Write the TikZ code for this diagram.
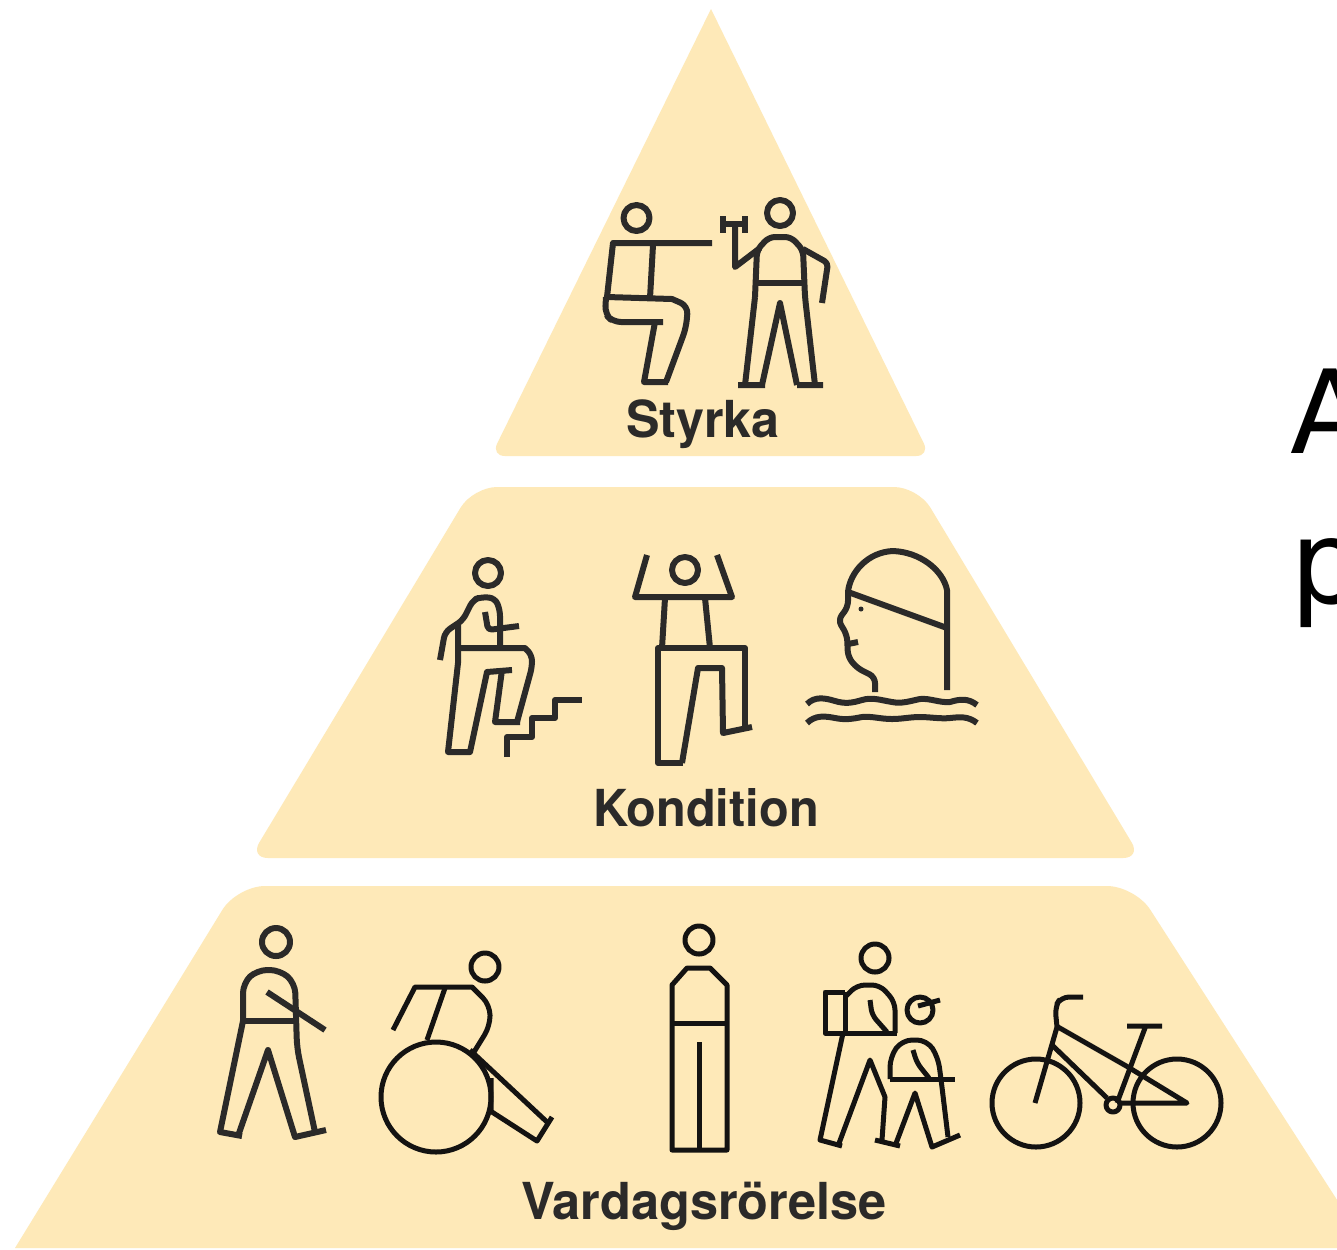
\documentclass[tikz,border=0pt]{standalone}
\usepackage{fontspec}
\setmainfont{TeX Gyre Heros}
\newfontfamily\bigfont{DejaVu Sans}
\definecolor{pyr}{HTML}{FEE9B8}
\definecolor{ink}{HTML}{2B2A29}
\definecolor{inkb}{HTML}{141312}
\tikzset{
  tier/.style={fill=pyr,draw=none},
  fig/.style={draw=ink,line width=3pt,line join=round,line cap=butt,fill=none},
  figb/.style={draw=inkb,line width=2.5pt,line join=round,line cap=butt,fill=none},
  tierlabel/.style={anchor=base,inner sep=0pt,text=ink,font=\fontsize{25.5}{28}\selectfont\bfseries},
  sidetext/.style={anchor=base west,inner sep=0pt,text=black,font=\fontsize{58}{70}\bigfont}
}
\begin{document}
\begin{tikzpicture}[x=0.5pt,y=-0.5pt]
\clip (0,0) rectangle (1337,1249);
\fill[white] (0,0) rectangle (1337,1249);
% tiers
\fill[tier,rounded corners=7pt] (711,9) [sharp corners] -- (711,9) [rounded corners=7pt] -- (930,456) -- (491,456) [sharp corners] -- cycle;
\fill[tier,rounded corners=12pt] (473,487) -- (918,487) [rounded corners=9pt] -- (1141,858) -- (250,858) [rounded corners=12pt] -- cycle;
\fill[tier,rounded corners=14pt] (237,886) -- (1135,886) [sharp corners] -- (1368,1248) -- (15,1248) [rounded corners=14pt] -- cycle;

% squat person
\draw[fig] (636.5,218) circle[radius=13];
\draw[fig] (712,243) -- (613,243) -- (607,297) -- (672,299) [rounded corners=4pt] -- (688,306) -- (686,328) -- (666,382);
\draw[fig] (653,245) -- (650,298);
\draw[fig,rounded corners=4pt] (606,297) -- (605,314) -- (613,322) -- (663,322);
\draw[fig] (655,322) -- (644,382) -- (668,382);
% dumbbell person
\draw[fig] (780,213) circle[radius=13];
\draw[fig] (723,216) -- (723,233) (745,216) -- (745,233) (723,224) -- (745,224);
\draw[fig] (735,224) -- (735,267) -- (760,248);
\draw[fig,rounded corners=3pt] (755,297) -- (757,250) -- (769,237) -- (791,237) -- (803,250) -- (805,297) -- (815,385);
\draw[fig,rounded corners=2pt] (803,249) -- (828,263) -- (822,303);
\draw[fig] (757,283) -- (803,283);
\draw[fig] (755,297) -- (745,385) (738,385) -- (765,385) (762,385) -- (780,303) -- (797,385) (797,385) -- (823,385);

% stair person
\draw[fig] (488,573) circle[radius=13];
\draw[fig,rounded corners=3pt] (440,660) -- (445,632) -- (463,620) -- (473,600) -- (481,597) -- (495,598) -- (500,610) -- (500,648);
\draw[fig,rounded corners=2pt] (485,612) -- (488,630) -- (519,626);
\draw[fig] (458,625) -- (458,663) -- (448,752) -- (470,752) -- (487,672) -- (512,670);
\draw[fig] (458,648) -- (525,648) [rounded corners=3pt] -- (532,655) -- (532,667) -- (517,722);
\draw[fig] (502,670) -- (495,722) -- (520,722);
\draw[fig] (507,757) -- (507,737) -- (532,737) -- (532,718) -- (555,718) -- (555,700) -- (582,700);
% raised-arms person
\draw[fig] (685,570) circle[radius=13];
\draw[fig] (647,555) -- (635,597) -- (732,597) -- (717,555);
\draw[fig] (665,598) -- (662,648) (705,598) -- (710,648);
\draw[fig] (683,763) -- (658,763) -- (658,648) -- (745,648) -- (745,727);
\draw[fig] (752,727) -- (723,733) -- (722,668) -- (698,668) -- (682,763);
% swimmer
\draw[fig] (947,690) -- (947,590) .. controls (943,570) and (920,552) .. (893,551) .. controls (868,552) and (850,572) .. (848,592) -- (947,628);
\draw[fig,rounded corners=3pt] (848,592) -- (848,607) -- (838,620) -- (847,635) -- (848,657) -- (857,668) -- (875,677) -- (875,692);
\draw[fig] (848,644) -- (858,642);
\fill[ink] (861,609) circle[radius=2.5];
\draw[fig] (807,704) .. controls (815,696) and (825,698) .. (835,701) .. controls (845,704) and (852,703) .. (862,700) .. controls (872,697) and (880,700) .. (892,702) .. controls (902,704) and (910,701) .. (920,699) .. controls (930,698) and (940,703) .. (950,702) .. controls (960,699) and (968,698) .. (977,705);
\draw[fig] (807,723) .. controls (815,715) and (825,716) .. (835,718) .. controls (845,720) and (852,719) .. (862,717) .. controls (872,716) and (880,719) .. (892,719) .. controls (902,719) and (910,717) .. (920,717) .. controls (930,717) and (940,719) .. (950,718) .. controls (960,717) and (968,716) .. (977,723);

% walker
\draw[fig] (276,942) circle[radius=14];
\draw[fig,rounded corners=5pt] (243,1021) -- (243,983) -- (257,970) -- (280,970) -- (295,983) -- (297,1048) -- (315,1132);
\draw[fig] (243,1021) -- (295,1021);
\draw[fig] (243,1021) -- (220,1132) -- (242,1136) (238,1136) -- (268,1050) -- (295,1137) -- (326,1130);
\draw[fig] (267,992) -- (325,1030);
% wheelchair
\draw[figb] (485,967) circle[radius=14];
\draw[figb] (436,1097) circle[radius=55];
\draw[figb] (393,1030) -- (415,987) -- (472,987) [rounded corners=5pt] -- (490,1005) -- (490,1026) -- (474,1052);
\draw[figb] (445,988) -- (427,1040);
\draw[figb] (470,1050) -- (547,1122);
\draw[figb] (552,1117) -- (537,1141) -- (492,1112) (491,1078) -- (491,1113);
% standing person
\draw[figb] (699,940) circle[radius=14];
\draw[figb] (672,1150) -- (672,985) -- (687,968) -- (710,968) -- (727,985) -- (727,1150) -- cycle;
\draw[figb] (672,1023) -- (727,1023) (699,1042) -- (699,1150);
% hiker and child
\draw[figb] (875,958) circle[radius=14];
\draw[figb] (845,992) -- (825,992) -- (825,1033) -- (897,1033) (845,992) -- (845,1033);
\draw[figb,rounded corners=4pt] (845,997) -- (857,985) -- (880,985) -- (895,1002) -- (895,1033);
\draw[figb,rounded corners=3pt] (870,1000) -- (872,1015) -- (887,1032);
\draw[figb] (843,1033) -- (820,1140) -- (842,1146) (838,1146) -- (870,1060) -- (885,1097) -- (882,1140) (875,1140) -- (900,1146);
\draw[figb] (920,1010) circle[radius=13];
\draw[figb] (918,1006) -- (940,1000);
\draw[figb,rounded corners=5pt] (890,1079) -- (890,1057) -- (902,1040) -- (927,1040) -- (938,1057) -- (941,1079) -- (948,1137);
\draw[figb] (890,1079) -- (955,1079);
\draw[figb,rounded corners=3pt] (913,1050) -- (917,1063) -- (929,1078);
\draw[figb] (895,1146) -- (915,1093) -- (932,1147) -- (960,1135);
% bicycle
\draw[figb] (1036,1103) circle[radius=44];
\draw[figb] (1177,1103) circle[radius=44];
\draw[figb] (1035,1103) -- (1057,1027) [rounded corners=4pt] -- (1055,1007) -- (1061,997) -- (1083,997);
\draw[figb] (1058,1027) -- (1128,1067) (1052,1045) -- (1107,1098);
\draw[figb] (1113,1105) circle[radius=7];
\draw[figb] (1117,1103) -- (1145,1028) (1127,1026) -- (1162,1026);
\draw[figb] (1118,1103) -- (1187,1103) -- (1128,1067);

% labels
\node[tierlabel,xscale=0.985] (styrka) at (703,437) {Styrka};
\node[tierlabel,xscale=0.955] (kondition) at (706,826) {Kondition};
\node[tierlabel,xscale=0.99] (vardag) at (704,1219) {Vardagsrörelse};
\node[sidetext] (sideA) at (1290,453) {A};
\node[sidetext] (sideP) at (1290,603) {p};
\end{tikzpicture}
\end{document}
